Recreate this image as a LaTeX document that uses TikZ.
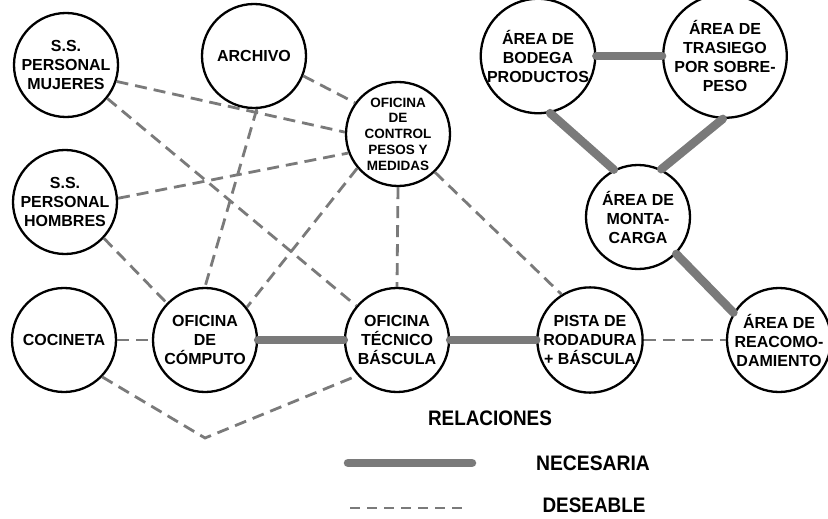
\documentclass[tikz,border=0pt]{standalone}
\usepackage{fontspec}
\setmainfont{Liberation Sans}
\usepackage{graphicx}
\definecolor{lg}{RGB}{122,122,122}
\begin{document}
\begin{tikzpicture}[x=1pt,y=-1pt,
  box/.style={circle,draw,line width=2.3pt,fill=white,minimum size=104pt,inner sep=0pt,align=center,
    font=\fontsize{16}{19}\selectfont\bfseries},
  smalltext/.style={font=\fontsize{13.5}{15.8}\selectfont\bfseries},
  legtext/.style={font=\fontsize{21}{24}\selectfont\bfseries,inner sep=0pt},
  need/.style={line width=8.5pt,draw=lg,line cap=round},
  want/.style={line width=2.8pt,draw=lg,dash pattern=on 12pt off 7pt}]
\useasboundingbox (0,0) rectangle (828,519);
% nodes
\node[box] (M) at (66,65) {S.S.\\PERSONAL\\MUJERES};
\node[box] (A) at (254,56) {ARCHIVO};
\node[box,smalltext] (C) at (398,134) {OFICINA\\DE\\CONTROL\\PESOS Y\\MEDIDAS};
\node[box] (H) at (65,202) {S.S.\\PERSONAL\\HOMBRES};
\node[box] (K) at (64,340) {COCINETA};
\node[box] (P) at (205,340) {OFICINA\\DE\\CÓMPUTO};
\node[box] (T) at (397,340) {OFICINA\\TÉCNICO\\BÁSCULA};
\node[box] (R) at (590,340) {PISTA DE\\RODADURA\\+ BÁSCULA};
\node[box] (D) at (779,340) {ÁREA DE\\REACOMO-\\DAMIENTO};
\node[box] (B) at (538,56) {ÁREA DE\\BODEGA\\PRODUCTOS};
\node[box] (S) at (725,56) {ÁREA DE\\TRASIEGO\\POR SOBRE-\\PESO};
\node[box] (G) at (638,217) {ÁREA DE\\MONTA-\\CARGA};
\coordinate (V) at (205,438);
% desirable relations
\draw[want] (M.-18) -- (C.178);
\draw[want] (M.-39) -- (T.140);
\draw[want] (A.-22) -- (C.144);
\draw[want] (A.-87) -- (P.90);
\draw[want] (H.4) -- (C.201);
\draw[want] (H.-43) -- (P.136);
\draw[want] (C.220) -- (P.38);
\draw[want] (C.-90) -- (T.90);
\draw[want] (C.-46) -- (R.122);
\draw[want] (K.east) -- (P.west);
\draw[want] (K.-44) -- (V) -- (T.222);
\draw[want] (R.east) -- (D.west);
% necessary relations
\draw[need] (P.east) -- (T.west);
\draw[need] (T.east) -- (R.west);
\draw[need] (B.east) -- (S.west);
\draw[need] (B.-78) -- (G.117);
\draw[need] (S.-92) -- (G.64);
\draw[need] (G.-44) -- (D.149);
% legend
\node[legtext] (rel) at (490,418) {\scalebox{0.9}[1]{RELACIONES}};
\node[legtext] (nec) at (593,463) {\scalebox{0.92}[1]{NECESARIA}};
\node[legtext] (des) at (594,505) {\scalebox{0.9}[1]{DESEABLE}};
\coordinate (n1) at (348,463);
\coordinate (n2) at (472,463);
\coordinate (d1) at (350,508);
\coordinate (d2) at (467,508);
\draw[need] (n1) -- (n2);
\draw[want,dash pattern=on 10pt off 7pt] (d1) -- (d2);
\end{tikzpicture}
\end{document}
